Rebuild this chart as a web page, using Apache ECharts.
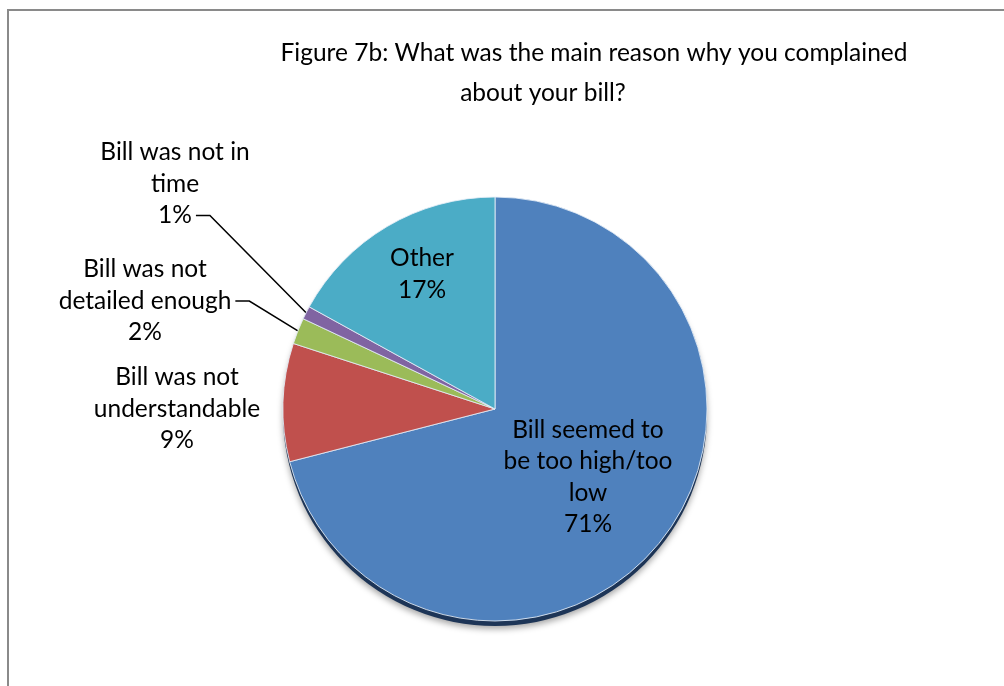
<!DOCTYPE html>
<html>
<head>
<meta charset="utf-8">
<style>
  html, body { margin: 0; padding: 0; background: #ffffff; }
  #chart { width: 1004px; height: 686px; }
</style>
<script src="https://cdn.jsdelivr.net/npm/echarts@6/dist/echarts.min.js"></script>
</head>
<body>
<div id="chart"></div>
<script>
// Complaint reasons, clockwise from 12 o'clock
const reasons = [
  'Bill seemed to\nbe too high/too\nlow',
  'Bill was not\nunderstandable',
  'Bill was not\ndetailed enough',
  'Bill was not in\ntime',
  'Other'
];
const shares = [71, 9, 2, 1, 17];
const sliceColors = ['#4F81BD', '#C0504D', '#9BBB59', '#8064A2', '#4BACC6'];
const titleLines = [
  'Figure 7b: What was the main reason why you complained',
  'about your bill?'
];

const FONT = 'Lato, "Open Sans", sans-serif';
const LABEL_SIZE = 24.5;
const LINE_H = 31.5;
const CX = 495, CY = 409, R = 212;

// where each label block is centred
const labelSpots = [
  { x: 588, y: 477 },
  { x: 177, y: 409 },
  { x: 145, y: 301 },
  { x: 175, y: 184 },
  { x: 422, y: 274 }
];
const insideLabels = [true, false, false, false, true];
// which text line of the label the leader line leaves from (-1 = none)
const leaderFromLine = [-1, -1, 1, 2, -1];

// text width helper for placing the leader line start
const measureCtx = document.createElement('canvas').getContext('2d');
function textWidth(str) {
  measureCtx.font = LABEL_SIZE + 'px ' + FONT;
  return measureCtx.measureText(str).width;
}
function labelText(i) {
  return reasons[i] + '\n' + shares[i] + '%';
}

const chart = echarts.init(document.getElementById('chart'), null, { renderer: 'canvas' });

const data = reasons.map((name, i) => ({
  name: name,
  value: shares[i],
  itemStyle: { color: sliceColors[i] },
  label: { position: insideLabels[i] ? 'inside' : 'outside' },
  labelLine: { show: leaderFromLine[i] >= 0, length: 20, length2: 12 }
}));

chart.setOption({
  backgroundColor: '#ffffff',
  animation: false,
  title: [
    {
      text: titleLines[0],
      left: 589, top: 36,
      textAlign: 'center',
      textStyle: { fontFamily: FONT, fontSize: 24.5, fontWeight: 'normal', color: '#000' }
    },
    {
      text: titleLines[1],
      left: 538, top: 76,
      textAlign: 'center',
      textStyle: { fontFamily: FONT, fontSize: 24.5, fontWeight: 'normal', color: '#000' }
    }
  ],
  graphic: [
    {
      type: 'rect',
      shape: { x: 8, y: 10, width: 1100, height: 800 },
      style: { fill: 'none', stroke: '#8a8a8a', lineWidth: 2 },
      silent: true,
      z: -10
    }
  ],
  series: [
    {
      // dark rim and soft shadow under the disc
      type: 'pie',
      silent: true,
      center: [CX, CY + 5],
      radius: R,
      startAngle: 90,
      label: { show: false },
      labelLine: { show: false },
      itemStyle: {
        color: '#1d3557',
        shadowColor: 'rgba(0,0,0,0.35)',
        shadowBlur: 6,
        shadowOffsetY: 3
      },
      data: [{ value: 1, name: '' }],
      z: 1
    },
    {
      type: 'pie',
      center: [CX, CY],
      radius: R,
      startAngle: 90,
      clockwise: true,
      avoidLabelOverlap: false,
      z: 2,
      itemStyle: {
        borderColor: 'rgba(230,238,248,0.85)',
        borderWidth: 1
      },
      label: {
        show: true,
        formatter: p => labelText(p.dataIndex),
        fontFamily: FONT,
        fontSize: LABEL_SIZE,
        lineHeight: LINE_H,
        color: '#000',
        align: 'center'
      },
      labelLine: {
        lineStyle: { color: '#000', width: 1.5 }
      },
      labelLayout: function (params) {
        const i = params.dataIndex;
        const s = labelSpots[i];
        const out = { x: s.x, y: s.y, align: 'center', verticalAlign: 'middle' };
        const li = leaderFromLine[i];
        if (li >= 0 && params.labelLinePoints) {
          const lines = labelText(i).split('\n');
          const y = s.y + (li - (lines.length - 1) / 2) * LINE_H;
          const xEnd = s.x + textWidth(lines[li]) / 2 + 4;
          out.labelLinePoints = [
            params.labelLinePoints[0],
            [xEnd + 14, y],
            [xEnd, y]
          ];
        }
        return out;
      },
      data: data
    }
  ]
});
</script>
</body>
</html>
